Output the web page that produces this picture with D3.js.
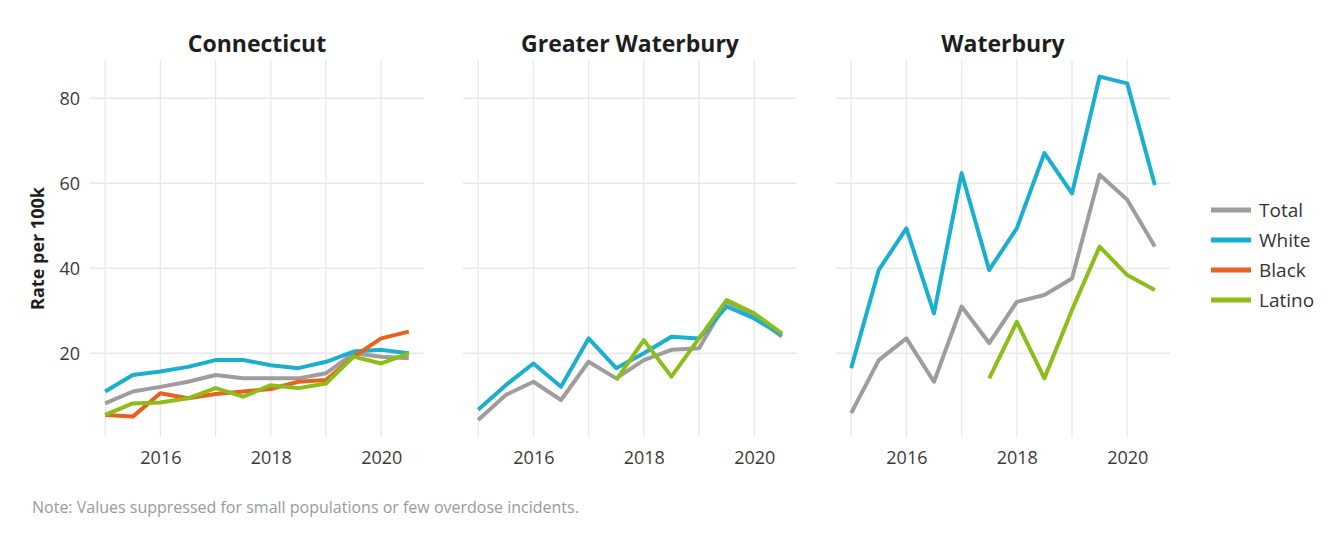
<!DOCTYPE html>
<html><head><meta charset="utf-8">
<script src="https://cdn.jsdelivr.net/npm/d3@7"></script>
<style>body{margin:0;background:#fff}svg{display:block}text{font-family:"Open Sans",Lato,sans-serif}</style>
</head><body><svg id="c" width="1331" height="539"></svg>
<script>
const periods = [2015,2015.5,2016,2016.5,2017,2017.5,2018,2018.5,2019,2019.5,2020,2020.5];
const panels = ["Connecticut","Greater Waterbury","Waterbury"];
const seriesNames = ["Total","White","Black","Latino"];
const colors = ["#a09c9c","#19b0cf","#e8621e","#8cbd18"];
const yTicks = [20,40,60,80];
const xTicks = [2016,2018,2020];
// Connecticut
const ctTotal  = [8.2,11.0,12.1,13.3,14.9,14.1,14.1,14.1,15.3,20.0,19.2,18.8];
const ctWhite  = [11.0,14.9,15.7,16.8,18.4,18.4,17.2,16.5,18.0,20.4,20.8,20.0];
const ctBlack  = [5.5,5.1,10.6,9.4,10.4,11.0,11.6,13.3,13.7,19.2,23.5,25.1];
const ctLatino = [5.5,8.2,8.4,9.4,11.8,9.8,12.5,11.8,12.9,19.2,17.6,20.0];
// Greater Waterbury
const gwTotal  = [4.3,10.2,13.3,9.0,18.0,14.1,18.4,20.8,21.2,32.1,29.0,23.9];
const gwWhite  = [6.7,12.5,17.6,12.1,23.5,16.5,20.0,23.9,23.5,31.0,28.2,24.3];
const gwBlack  = [null,null,null,null,null,null,null,null,null,null,null,null];
const gwLatino = [null,null,null,null,null,13.7,23.1,14.5,23.5,32.5,29.4,24.7];
// Waterbury
const wTotal  = [5.9,18.4,23.5,13.3,31.0,22.4,32.1,33.7,37.6,62.0,56.1,45.1];
const wWhite  = [16.5,39.6,49.4,29.4,62.4,39.6,49.4,67.1,57.6,85.1,83.5,59.6];
const wBlack  = [null,null,null,null,null,null,null,null,null,null,null,null];
const wLatino = [null,null,null,null,null,14.1,27.4,14.1,30.2,45.1,38.4,34.9];

const panelData = [
  [ctTotal,ctWhite,ctBlack,ctLatino],
  [gwTotal,gwWhite,gwBlack,gwLatino],
  [wTotal,wWhite,wBlack,wLatino]
];

const svg = d3.select("#c");
const panelLeft = [90,463,836];
const pw = 334;
const plotTop = 60, plotBottom = 437;
const y = d3.scaleLinear().domain([0.3,89]).range([plotBottom,plotTop]);

panels.forEach((name,pi)=>{
  const x = d3.scaleLinear().domain([2014.725,2020.775]).range([panelLeft[pi],panelLeft[pi]+pw]);
  const g = svg.append("g");
  g.selectAll(".hg").data(yTicks).join("line")
    .attr("x1",panelLeft[pi]).attr("x2",panelLeft[pi]+pw)
    .attr("y1",d=>y(d)).attr("y2",d=>y(d))
    .attr("stroke","#e8e8e8").attr("stroke-width",1.3);
  g.selectAll(".vg").data(d3.range(2015,2021)).join("line")
    .attr("x1",d=>x(d)).attr("x2",d=>x(d))
    .attr("y1",plotTop).attr("y2",plotBottom)
    .attr("stroke","#e8e8e8").attr("stroke-width",1.3);
  const xa = d3.axisBottom(x).tickValues(xTicks).tickFormat(d3.format("d")).tickSize(0).tickPadding(14);
  const xg = g.append("g").attr("transform",`translate(0,${plotBottom})`).call(xa);
  xg.select(".domain").remove();
  xg.selectAll("text").attr("font-size",18).attr("fill","#3a3a3a").attr("font-family","'Open Sans',sans-serif");
  if(pi===0){
    const ya = d3.axisLeft(y).tickValues(yTicks).tickSize(0).tickPadding(10);
    const yg = g.append("g").attr("transform",`translate(${panelLeft[0]},0)`).call(ya);
    yg.select(".domain").remove();
    yg.selectAll("text").attr("font-size",18).attr("fill","#3a3a3a").attr("font-family","'Open Sans',sans-serif");
  }
  g.append("text").attr("x",panelLeft[pi]+pw/2).attr("y",52).attr("text-anchor","middle")
    .attr("font-size",23).attr("font-weight","bold").attr("fill","#1e1e1e").text(name);
  const line = d3.line().defined(d=>d[1]!=null).x(d=>x(d[0])).y(d=>y(d[1]));
  panelData[pi].forEach((vals,si)=>{
    g.append("path").datum(periods.map((p,i)=>[p,vals[i]]))
      .attr("d",line).attr("fill","none").attr("stroke",colors[si])
      .attr("stroke-width",4).attr("stroke-linejoin","round");
  });
});

svg.append("text").attr("transform",`translate(44,${(plotTop+plotBottom)/2}) rotate(-90)`)
  .attr("text-anchor","middle").attr("font-size",18).attr("font-weight","bold").attr("fill","#1e1e1e")
  .text("Rate per 100k");

const lg = svg.append("g");
seriesNames.forEach((s,i)=>{
  const yy = 210 + i*30;
  lg.append("line").attr("x1",1211).attr("x2",1251).attr("y1",yy).attr("y2",yy)
    .attr("stroke",colors[i]).attr("stroke-width",5);
  lg.append("text").attr("x",1259).attr("y",yy).attr("dy","0.35em").attr("font-size",19)
    .attr("fill","#333").text(s);
});

svg.append("text").attr("x",32).attr("y",513).attr("font-size",16).attr("fill","#9a9a9a")
  .text("Note: Values suppressed for small populations or few overdose incidents.");
</script></body></html>
